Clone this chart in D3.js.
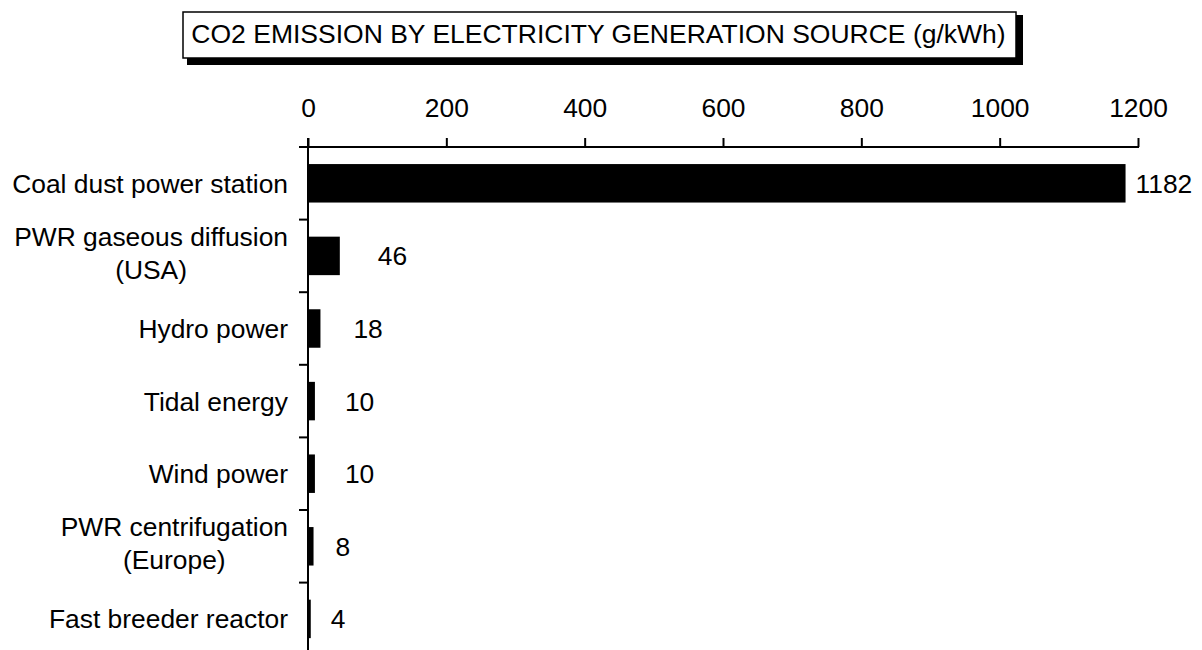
<!DOCTYPE html>
<html>
<head>
<meta charset="utf-8">
<script src="https://cdn.jsdelivr.net/npm/d3@7/dist/d3.min.js"></script>
<style>
  html, body { margin: 0; padding: 0; background: #fff; }
  svg { display: block; font-family: "Liberation Sans", Arial, sans-serif; }
</style>
</head>
<body>
<svg id="chart" width="1202" height="650"></svg>
<script>
// CO2 emission per kWh for each generation source
const categories = [
  "Coal dust power station",
  "PWR gaseous diffusion\n(USA)",
  "Hydro power",
  "Tidal energy",
  "Wind power",
  "PWR centrifugation\n(Europe)",
  "Fast breeder reactor"
];
const emissions = [1182, 46, 18, 10, 10, 8, 4];
const xTicks = [0, 200, 400, 600, 800, 1000, 1200];
const titleText = "CO2 EMISSION BY ELECTRICITY GENERATION SOURCE (g/kWh)";

// space between each bar end and its value label
const labelGap = [10, 38, 33, 30, 30, 22, 20];

const W = 1202, H = 650;
const FONT = 26.4;
const margin = { top: 147, left: 308, right: 64 };

const svg = d3.select("#chart");

const x = d3.scaleLinear()
  .domain([0, 1200])
  .range([margin.left, 1138]);

const y = d3.scaleBand()
  .domain(categories)
  .range([margin.top, margin.top + 72.6 * categories.length])
  .paddingInner(0.47)
  .paddingOuter(0.235);

// Title box with drop shadow
const box = { x: 183, y: 12, w: 833, h: 46 };
svg.append("rect")
  .attr("x", box.x + 4).attr("y", box.y + 3)
  .attr("width", box.w + 3).attr("height", box.h + 4)
  .attr("fill", "#000");
svg.append("rect")
  .attr("x", box.x).attr("y", box.y)
  .attr("width", box.w).attr("height", box.h)
  .attr("fill", "#fff").attr("stroke", "#000").attr("stroke-width", 1.5);
svg.append("text")
  .attr("x", box.x + box.w / 2 - 1).attr("y", box.y + 21)
  .attr("dy", "0.36em")
  .attr("text-anchor", "middle")
  .attr("font-size", 26.5)
  .attr("fill", "#000")
  .text(titleText);

// Bars
svg.append("g").selectAll("rect")
  .data(categories)
  .join("rect")
  .attr("x", x(0))
  .attr("y", d => y(d))
  .attr("width", (d, i) => x(emissions[i]) - x(0))
  .attr("height", y.bandwidth())
  .attr("fill", "#000");

// Value labels
svg.append("g").selectAll("text")
  .data(categories)
  .join("text")
  .attr("x", (d, i) => x(emissions[i]) + labelGap[i])
  .attr("y", d => y(d) + y.bandwidth() / 2)
  .attr("dy", "0.36em")
  .attr("font-size", FONT)
  .attr("fill", "#000")
  .text((d, i) => emissions[i]);

// Top value axis: ticks point upward
const xAxis = d3.axisTop(x)
  .tickValues(xTicks)
  .tickSize(9)
  .tickPadding(21)
  .tickFormat(d3.format("d"));
const gx = svg.append("g")
  .attr("transform", `translate(0,${margin.top})`)
  .call(xAxis);
gx.select(".domain").remove();
gx.selectAll(".tick line").attr("stroke", "#000").attr("stroke-width", 2);
gx.selectAll(".tick text")
  .attr("font-size", FONT)
  .attr("font-family", "'Liberation Sans', Arial, sans-serif")
  .attr("fill", "#000");
gx.append("line")
  .attr("x1", x(0) - 9).attr("x2", x(1200) + 1)
  .attr("y1", 0).attr("y2", 0)
  .attr("stroke", "#000").attr("stroke-width", 2);

// Category axis: vertical line with ticks on band boundaries
const gy = svg.append("g");
gy.append("line")
  .attr("x1", x(0)).attr("x2", x(0))
  .attr("y1", margin.top - 9).attr("y2", H + 10)
  .attr("stroke", "#000").attr("stroke-width", 2);
gy.selectAll("line.bound")
  .data(categories)
  .join("line")
  .attr("class", "bound")
  .attr("x1", x(0) - 9).attr("x2", x(0))
  .attr("y1", d => y(d) - y.step() * y.paddingOuter())
  .attr("y2", d => y(d) - y.step() * y.paddingOuter())
  .attr("stroke", "#000").attr("stroke-width", 2);

// Category labels, centred lines right-aligned to the axis
const labelRight = x(0) - 20;
gy.selectAll("text.cat")
  .data(categories)
  .join("text")
  .attr("class", "cat")
  .attr("font-size", FONT)
  .attr("fill", "#000")
  .each(function (d) {
    const lines = d.split("\n");
    const t = d3.select(this);
    const cy = y(d) + y.bandwidth() / 2;
    if (lines.length === 1) {
      t.attr("x", labelRight).attr("y", cy).attr("dy", "0.36em")
        .attr("text-anchor", "end").text(d);
    } else {
      // measure the longest line so the block stays right-aligned
      const probe = svg.append("text").attr("font-size", FONT).text(lines[0]);
      const wMax = d3.max(lines, l => { probe.text(l); return probe.node().getComputedTextLength(); });
      probe.remove();
      const cx = labelRight - wMax / 2;
      const lh = 33;
      const top = cy - 3 - lh * (lines.length - 1) / 2;
      t.attr("text-anchor", "middle");
      lines.forEach((l, k) => {
        t.append("tspan").attr("x", cx).attr("y", top + k * lh)
          .attr("dy", "0.36em").text(l);
      });
    }
  });
</script>
</body>
</html>
